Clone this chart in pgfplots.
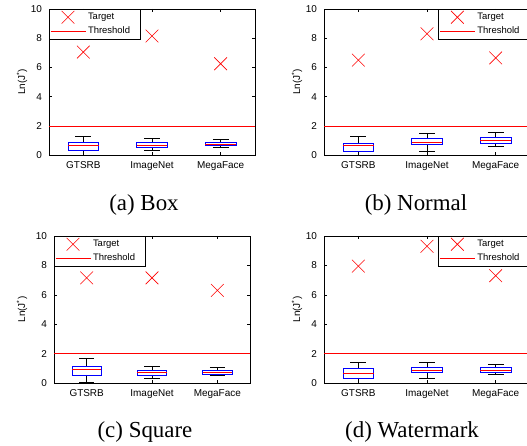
\documentclass[border=0pt]{standalone}
\usepackage{pgfplots}
\pgfplotsset{compat=1.18}
\usepgfplotslibrary{statistics}
\usepackage{fontspec}
\setmainfont{Liberation Serif}
\newfontfamily\arial{Liberation Sans}
\pgfplotsset{
  jstyle/.style={
    scale only axis, width=206bp, height=146bp, clip=false,
    xmin=0.5, xmax=3.5, ymin=0, ymax=10,
    xtick={1,2,3}, xticklabels={GTSRB,ImageNet,MegaFace},
    ytick={0,2,4,6,8,10},
    tick align=inside, tick pos=both,
    major tick length=3bp,
    /pgf/number format/assume math mode=true,
    axis line style={line width=0.5bp},
    every tick/.style={line width=0.5bp},
    ticklabel style={font=\arial\fontsize{10}{12}\selectfont},
    yticklabel style={xshift=-3.5bp},
    xticklabel style={yshift=-3bp},
    ylabel={Ln(J\textsuperscript{*})},
    ylabel style={font=\arial\fontsize{10}{12}\selectfont, anchor=center},
    legend cell align=left,
    legend style={font=\arial\fontsize{9.5}{11}\selectfont, line width=0.5bp,
      inner xsep=1bp, inner ysep=1bp, row sep=0bp,
      nodes={text height=7bp, text depth=2.5bp, inner sep=2.25bp}},
    boxplot/draw direction=y,
    boxplot/box extend=0.45,
    boxplot/whisker extend=0.23,
  },
  tgtstyle/.style={red, only marks, mark=x, mark size=9bp, mark options={line width=0.6bp},
    legend image code/.code={\path[draw=none,fill=none] (0bp,-3bp) rectangle (35bp,3bp); \draw[##1, overlay] plot coordinates {(17.5bp,0bp)};}},
  thrleg/.style={legend image code/.code={\draw[##1] (0bp,0bp) -- (35bp,0bp);}},
}
\newcommand{\tgt}[3]{\addplot[tgtstyle] coordinates {(1,#1) (2,#2) (3,#3)};
  \addlegendentry{Target}}
\newcommand{\thr}{\addplot[red, thrleg] coordinates {(0.5,2) (3.5,2)};
  \addlegendentry{Threshold\hspace*{7bp}}}
\newcommand{\bx}[6]{\addplot[forget plot, black, line width=0.6bp, boxplot prepared={draw position=#1, lower whisker=#2, lower quartile=#3, median=#4, upper quartile=#5, upper whisker=#6, every box/.style={blue}, every median/.style={red}, every whisker/.style={black}}] coordinates {};}
\begin{document}
\begin{tikzpicture}
\useasboundingbox (0,0) rectangle (527bp,446bp);
% (a) Box
\begin{axis}[jstyle, at={(49bp,291bp)}, anchor=south west,
  ylabel style={at={(axis description cs:-0.131,0.5)}},
  legend style={at={(0,1)}, anchor=north west}]
\tgt{7.05}{8.15}{6.25}
\thr
\bx{1}{0}{0.3}{0.65}{0.9}{1.3}
\bx{2}{0.3}{0.55}{0.65}{0.85}{1.15}
\bx{3}{0.55}{0.65}{0.75}{0.85}{1.05}
\end{axis}
% (b) Normal
\begin{axis}[jstyle, at={(324bp,291bp)}, anchor=south west,
  ylabel style={at={(axis description cs:-0.131,0.5)}},
  legend style={at={(1,1)}, anchor=north east}]
\tgt{6.5}{8.3}{6.65}
\thr
\bx{1}{0}{0.25}{0.65}{0.8}{1.3}
\bx{2}{0.25}{0.7}{0.9}{1.15}{1.5}
\bx{3}{0.6}{0.8}{1.0}{1.2}{1.55}
\end{axis}
% (c) Square
\begin{axis}[jstyle, width=196bp, height=147bp, at={(54bp,63bp)}, anchor=south west,
  ylabel style={at={(axis description cs:-0.163,0.5)}},
  legend style={at={(0,1)}, anchor=north west}]
\tgt{7.15}{7.15}{6.3}
\thr
\bx{1}{0.05}{0.55}{0.95}{1.15}{1.65}
\bx{2}{0.3}{0.55}{0.7}{0.85}{1.15}
\bx{3}{0.5}{0.6}{0.7}{0.85}{1.05}
\end{axis}
% (d) Watermark
\begin{axis}[jstyle, height=147bp, at={(324bp,63bp)}, anchor=south west,
  ylabel style={at={(axis description cs:-0.131,0.5)}},
  legend style={at={(1,1)}, anchor=north east}]
\tgt{7.95}{9.3}{7.3}
\thr
\bx{1}{0}{0.35}{0.65}{1.0}{1.4}
\bx{2}{0.3}{0.7}{0.85}{1.05}{1.4}
\bx{3}{0.6}{0.75}{0.85}{1.05}{1.25}
\end{axis}
\node[font=\fontsize{23}{27}\selectfont] at (144bp,241bp) {(a) Box};
\node[font=\fontsize{23}{27}\selectfont] at (416bp,241bp) {(b) Normal};
\node[font=\fontsize{23}{27}\selectfont] at (145bp,14bp) {(c) Square};
\node[font=\fontsize{23}{27}\selectfont] at (412bp,14bp) {(d) Watermark};
\end{tikzpicture}
\end{document}
